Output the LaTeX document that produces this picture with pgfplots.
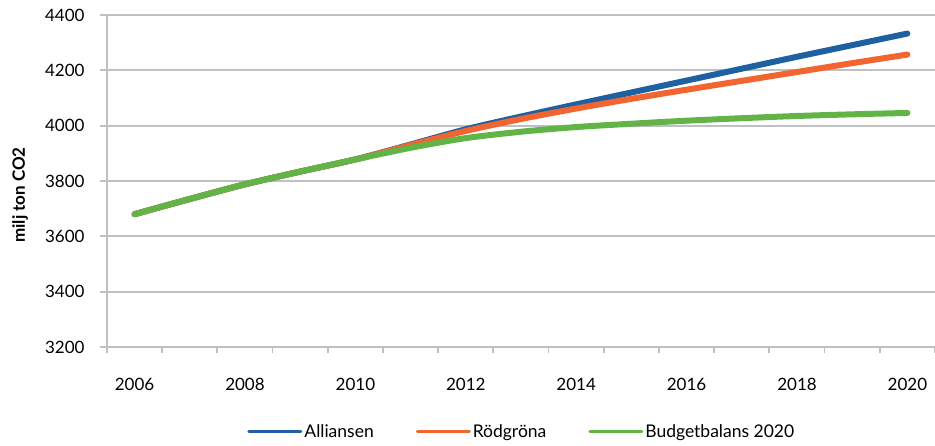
\documentclass[border=0pt]{standalone}
\usepackage{pgfplots}
\pgfplotsset{compat=1.18}
\usepackage{fontspec}
\setmainfont{Lato}
\definecolor{allblue}{RGB}{30,96,160}
\definecolor{rgorange}{RGB}{242,101,48}
\definecolor{bbgreen}{RGB}{98,180,70}
\definecolor{gridgray}{RGB}{190,192,194}

\begin{document}
\begin{tikzpicture}
\useasboundingbox (-107pt,-98pt) rectangle (828pt,347pt);
\begin{axis}[
    at={(0,0)}, anchor=origin,
    width=828pt, height=332pt,
    scale only axis,
    xmin=2005.5, xmax=2020.5,
    ymin=3200, ymax=4400,
    xtick={2006,2008,...,2020},
    minor xtick={2005.5,2006.5,...,2020.5},
    ytick={3200,3400,...,4400},
    major x tick style={draw=none},
    minor x tick style={draw=gridgray, line width=1.8pt},
    minor tick length=6pt,
    major tick length=7pt,
    tick align=outside,
    y tick style={draw=gridgray, line width=1.8pt},
    axis x line*=bottom,
    axis y line*=left,
    axis line style={draw=gridgray, line width=2.2pt, -},
    ymajorgrids,
    grid style={draw=gridgray, line width=2pt},
    /pgf/number format/1000 sep={},
    /pgf/number format/assume math mode=true,
    ticklabel style={font=\fontsize{17}{19}\selectfont},
    yticklabel style={anchor=east, xshift=-12pt},
    xticklabel style={anchor=center, yshift=-30pt},
    ylabel={\textbf{milj ton CO2}},
    ylabel style={font=\fontsize{17}{19}\selectfont, at={(-87pt,152pt)}, anchor=center, rotate=0},
    legend columns=3,
    legend style={draw=none, at={(0.501,-0.256)}, anchor=center,
        font=\fontsize{17.5}{19}\selectfont,
        /tikz/every even column/.append style={column sep=40pt}},
    legend image code/.code={\draw[line width=3pt] (0pt,0pt) -- (52pt,0pt);},
    every axis plot/.append style={line width=6pt, line cap=round, line join=round, smooth},
]
\addplot[allblue] coordinates {
(2006,3680) (2007,3735) (2008,3788) (2009,3834) (2010,3878)
(2011,3932) (2012,3987) (2013,4033) (2014,4077) (2015,4120)
(2016,4163) (2017,4206) (2018,4249) (2019,4291) (2020,4333)};
\addlegendentry{Alliansen}
\addplot[rgorange] coordinates {
(2006,3680) (2007,3735) (2008,3788) (2009,3834) (2010,3878)
(2011,3930) (2012,3981) (2013,4024) (2014,4062) (2015,4097)
(2016,4130) (2017,4162) (2018,4194) (2019,4226) (2020,4257)};
\addlegendentry{Rödgröna}
\addplot[bbgreen] coordinates {
(2006,3680) (2007,3735) (2008,3788) (2009,3834) (2010,3878)
(2011,3920) (2012,3955) (2013,3978) (2014,3995) (2015,4007)
(2016,4018) (2017,4027) (2018,4035) (2019,4041) (2020,4046)};
\addlegendentry{Budgetbalans 2020}
\end{axis}
\end{tikzpicture}
\end{document}
